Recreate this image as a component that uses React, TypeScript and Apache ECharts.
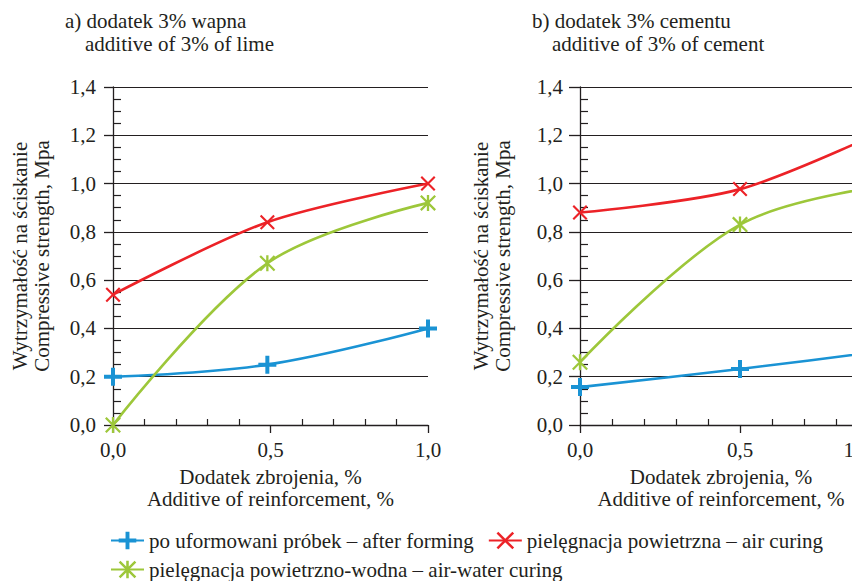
import React, { useEffect, useRef } from 'react';
import * as echarts from 'echarts';

// ---- data ----
const xLime = [0, 0.49, 1.0];
const limeAfterForming = [0.2, 0.25, 0.4];
const limeAirCuring = [0.54, 0.84, 1.0];
const limeAirWater = [0.0, 0.67, 0.92];

const xCement = [0, 0.5, 1.0];
const cementAfterForming = [0.157, 0.232, 0.315];
const cementAirCuring = [0.88, 0.977, 1.25];
const cementAirWater = [0.26, 0.83, 1.0];

const yTickLabels = ['0,0', '0,2', '0,4', '0,6', '0,8', '1,0', '1,2', '1,4'];
const xTickLabelsLeft = ['0,0', '0,5', '1,0'];
const xTickLabelsRight = ['0,0', '0,5', '1'];
const xTickValuesRight = [0, 0.5, 0.84];

const seriesNames = [
  'po uformowani próbek – after forming',
  'pielęgnacja powietrzna – air curing',
  'pielęgnacja powietrzno-wodna – air-water curing',
];
const titleLines = [
  'a) dodatek 3% wapna',
  'additive of 3% of lime',
  'b) dodatek 3% cementu',
  'additive of 3% of cement',
];
const yName = 'Wytrzymałość na ściskanie\nCompressive strength, Mpa';
const xName = 'Dodatek zbrojenia, %\nAdditive of reinforcement, %';

const BLUE = '#1a93d4';
const RED = '#ec2227';
const GREEN = '#9dc73a';
const INK = '#231f20';
const FONT = 'Liberation Serif';

const PLUS = 'path://M-2,-9L2,-9L2,-2L9,-2L9,2L2,2L2,9L-2,9L-2,2L-9,2L-9,-2L-2,-2Z';
const CROSS = 'path://M-9,-7.2L-7.2,-9L9,7.2L7.2,9Z M7.2,-9L9,-7.2L-7.2,9L-9,7.2Z';
const STAR =
  'path://M-9,-7.2L-7.2,-9L9,7.2L7.2,9Z M7.2,-9L9,-7.2L-7.2,9L-9,7.2Z M-1.3,-9L1.3,-9L1.3,9L-1.3,9Z';

function mkSeries(
  name: string,
  color: string,
  symbol: string,
  size: number,
  xs: number[],
  ys: number[],
  idx: number,
  smooth: number
) {
  return {
    type: 'line',
    name,
    xAxisIndex: idx,
    yAxisIndex: idx,
    data: xs.map((x, i) => [x, ys[i]]),
    symbol,
    symbolSize: size,
    showSymbol: true,
    smooth,
    clip: true,
    lineStyle: { color, width: 2.6 },
    itemStyle: { color },
  };
}

function yAxisCfg(gridIndex: number, tickLen: number, nameGap: number) {
  return {
    type: 'value',
    gridIndex,
    min: 0,
    max: 1.4,
    interval: 0.2,
    axisLine: { show: true, lineStyle: { color: INK, width: 1.3 } },
    axisTick: { show: true, length: tickLen, lineStyle: { color: INK, width: 1.3 } },
    minorTick: { show: true, splitNumber: 4, length: -8, lineStyle: { color: INK, width: 1.2 } },
    splitLine: { show: true, lineStyle: { color: INK, width: 1.2 } },
    axisLabel: {
      formatter: (v: number) => yTickLabels[Math.round(v / 0.2)],
      margin: 17,
      fontSize: 21,
      color: INK,
      fontFamily: FONT,
    },
    name: yName,
    nameLocation: 'middle',
    nameGap,
    nameRotate: 90,
    nameTextStyle: { fontSize: 21, lineHeight: 22, color: INK, fontFamily: FONT },
  };
}

function xAxisCfg(gridIndex: number, labels: string[], customValues: number[] | null, namePad: number[]) {
  const label: any = {
    formatter: (v: number) => {
      const vals = customValues || [0, 0.5, 1];
      let best = 0;
      for (let i = 0; i < vals.length; i++) {
        if (Math.abs(vals[i] - v) < Math.abs(vals[best] - v)) best = i;
      }
      return labels[best];
    },
    margin: 14,
    fontSize: 21,
    color: INK,
    fontFamily: FONT,
  };
  if (customValues) label.customValues = customValues;
  return {
    type: 'value',
    gridIndex,
    min: 0,
    max: 1,
    interval: 0.5,
    axisLine: { show: true, lineStyle: { color: INK, width: 1.3 } },
    axisTick: { show: true, length: 8, lineStyle: { color: INK, width: 1.3 } },
    minorTick: { show: true, splitNumber: 5, length: -6, lineStyle: { color: INK, width: 1.2 } },
    splitLine: { show: false },
    axisLabel: label,
    name: xName,
    nameLocation: 'middle',
    nameGap: 41,
    nameTextStyle: { fontSize: 21, lineHeight: 22, color: INK, fontFamily: FONT, padding: namePad },
  };
}

export default function App() {
  const ref = useRef<HTMLDivElement>(null);
  useEffect(() => {
    if (!ref.current) return;
    const chart = echarts.init(ref.current, null, { renderer: 'svg' });
    const titleStyle = { fontSize: 21, fontWeight: 'normal', color: INK, fontFamily: FONT };
    chart.setOption({
      animation: false,
      backgroundColor: '#ffffff',
      textStyle: { fontFamily: FONT },
      title: [
        { text: titleLines[0], left: 65, top: 10, textStyle: titleStyle, padding: 0 },
        { text: titleLines[1], left: 85, top: 33, textStyle: titleStyle, padding: 0 },
        { text: titleLines[2], left: 532, top: 10, textStyle: titleStyle, padding: 0 },
        { text: titleLines[3], left: 552, top: 33, textStyle: titleStyle, padding: 0 },
      ],
      legend: [
        {
          data: [seriesNames[0], seriesNames[1]],
          left: 110,
          top: 530,
          padding: 0,
          itemWidth: 33,
          itemHeight: 22,
          itemGap: 14,
          textStyle: { fontSize: 21, color: INK, fontFamily: FONT },
        },
        {
          data: [seriesNames[2]],
          left: 110,
          top: 559,
          padding: 0,
          itemWidth: 33,
          itemHeight: 22,
          textStyle: { fontSize: 21, color: INK, fontFamily: FONT },
        },
      ],
      grid: [
        { left: 113, top: 87, width: 315, height: 338, outerBoundsMode: 'none', containLabel: false },
        { left: 580, top: 87, width: 320, height: 338, outerBoundsMode: 'none', containLabel: false },
      ],
      xAxis: [
        xAxisCfg(0, xTickLabelsLeft, null, [0, 0, 0, 0]),
        xAxisCfg(1, xTickLabelsRight, xTickValuesRight, [0, 38, 0, 0]),
      ],
      yAxis: [yAxisCfg(0, 9, 60), yAxisCfg(1, 11, 66)],
      series: [
        mkSeries(seriesNames[0], BLUE, PLUS, 18, xLime, limeAfterForming, 0, 0.4),
        mkSeries(seriesNames[1], RED, CROSS, 15, xLime, limeAirCuring, 0, 0.3),
        mkSeries(seriesNames[2], GREEN, STAR, 16, xLime, limeAirWater, 0, 0.35),
        mkSeries(seriesNames[0], BLUE, PLUS, 18, xCement, cementAfterForming, 1, 0.3),
        mkSeries(seriesNames[1], RED, CROSS, 15, xCement, cementAirCuring, 1, 0.3),
        mkSeries(seriesNames[2], GREEN, STAR, 16, xCement, cementAirWater, 1, 0.35),
      ],
    });
    return () => chart.dispose();
  }, []);
  return (
    <div
      ref={ref}
      style={{
        position: 'fixed',
        left: 0,
        top: 0,
        width: 852,
        height: 581,
        overflow: 'hidden',
        background: '#fff',
      }}
    />
  );
}
